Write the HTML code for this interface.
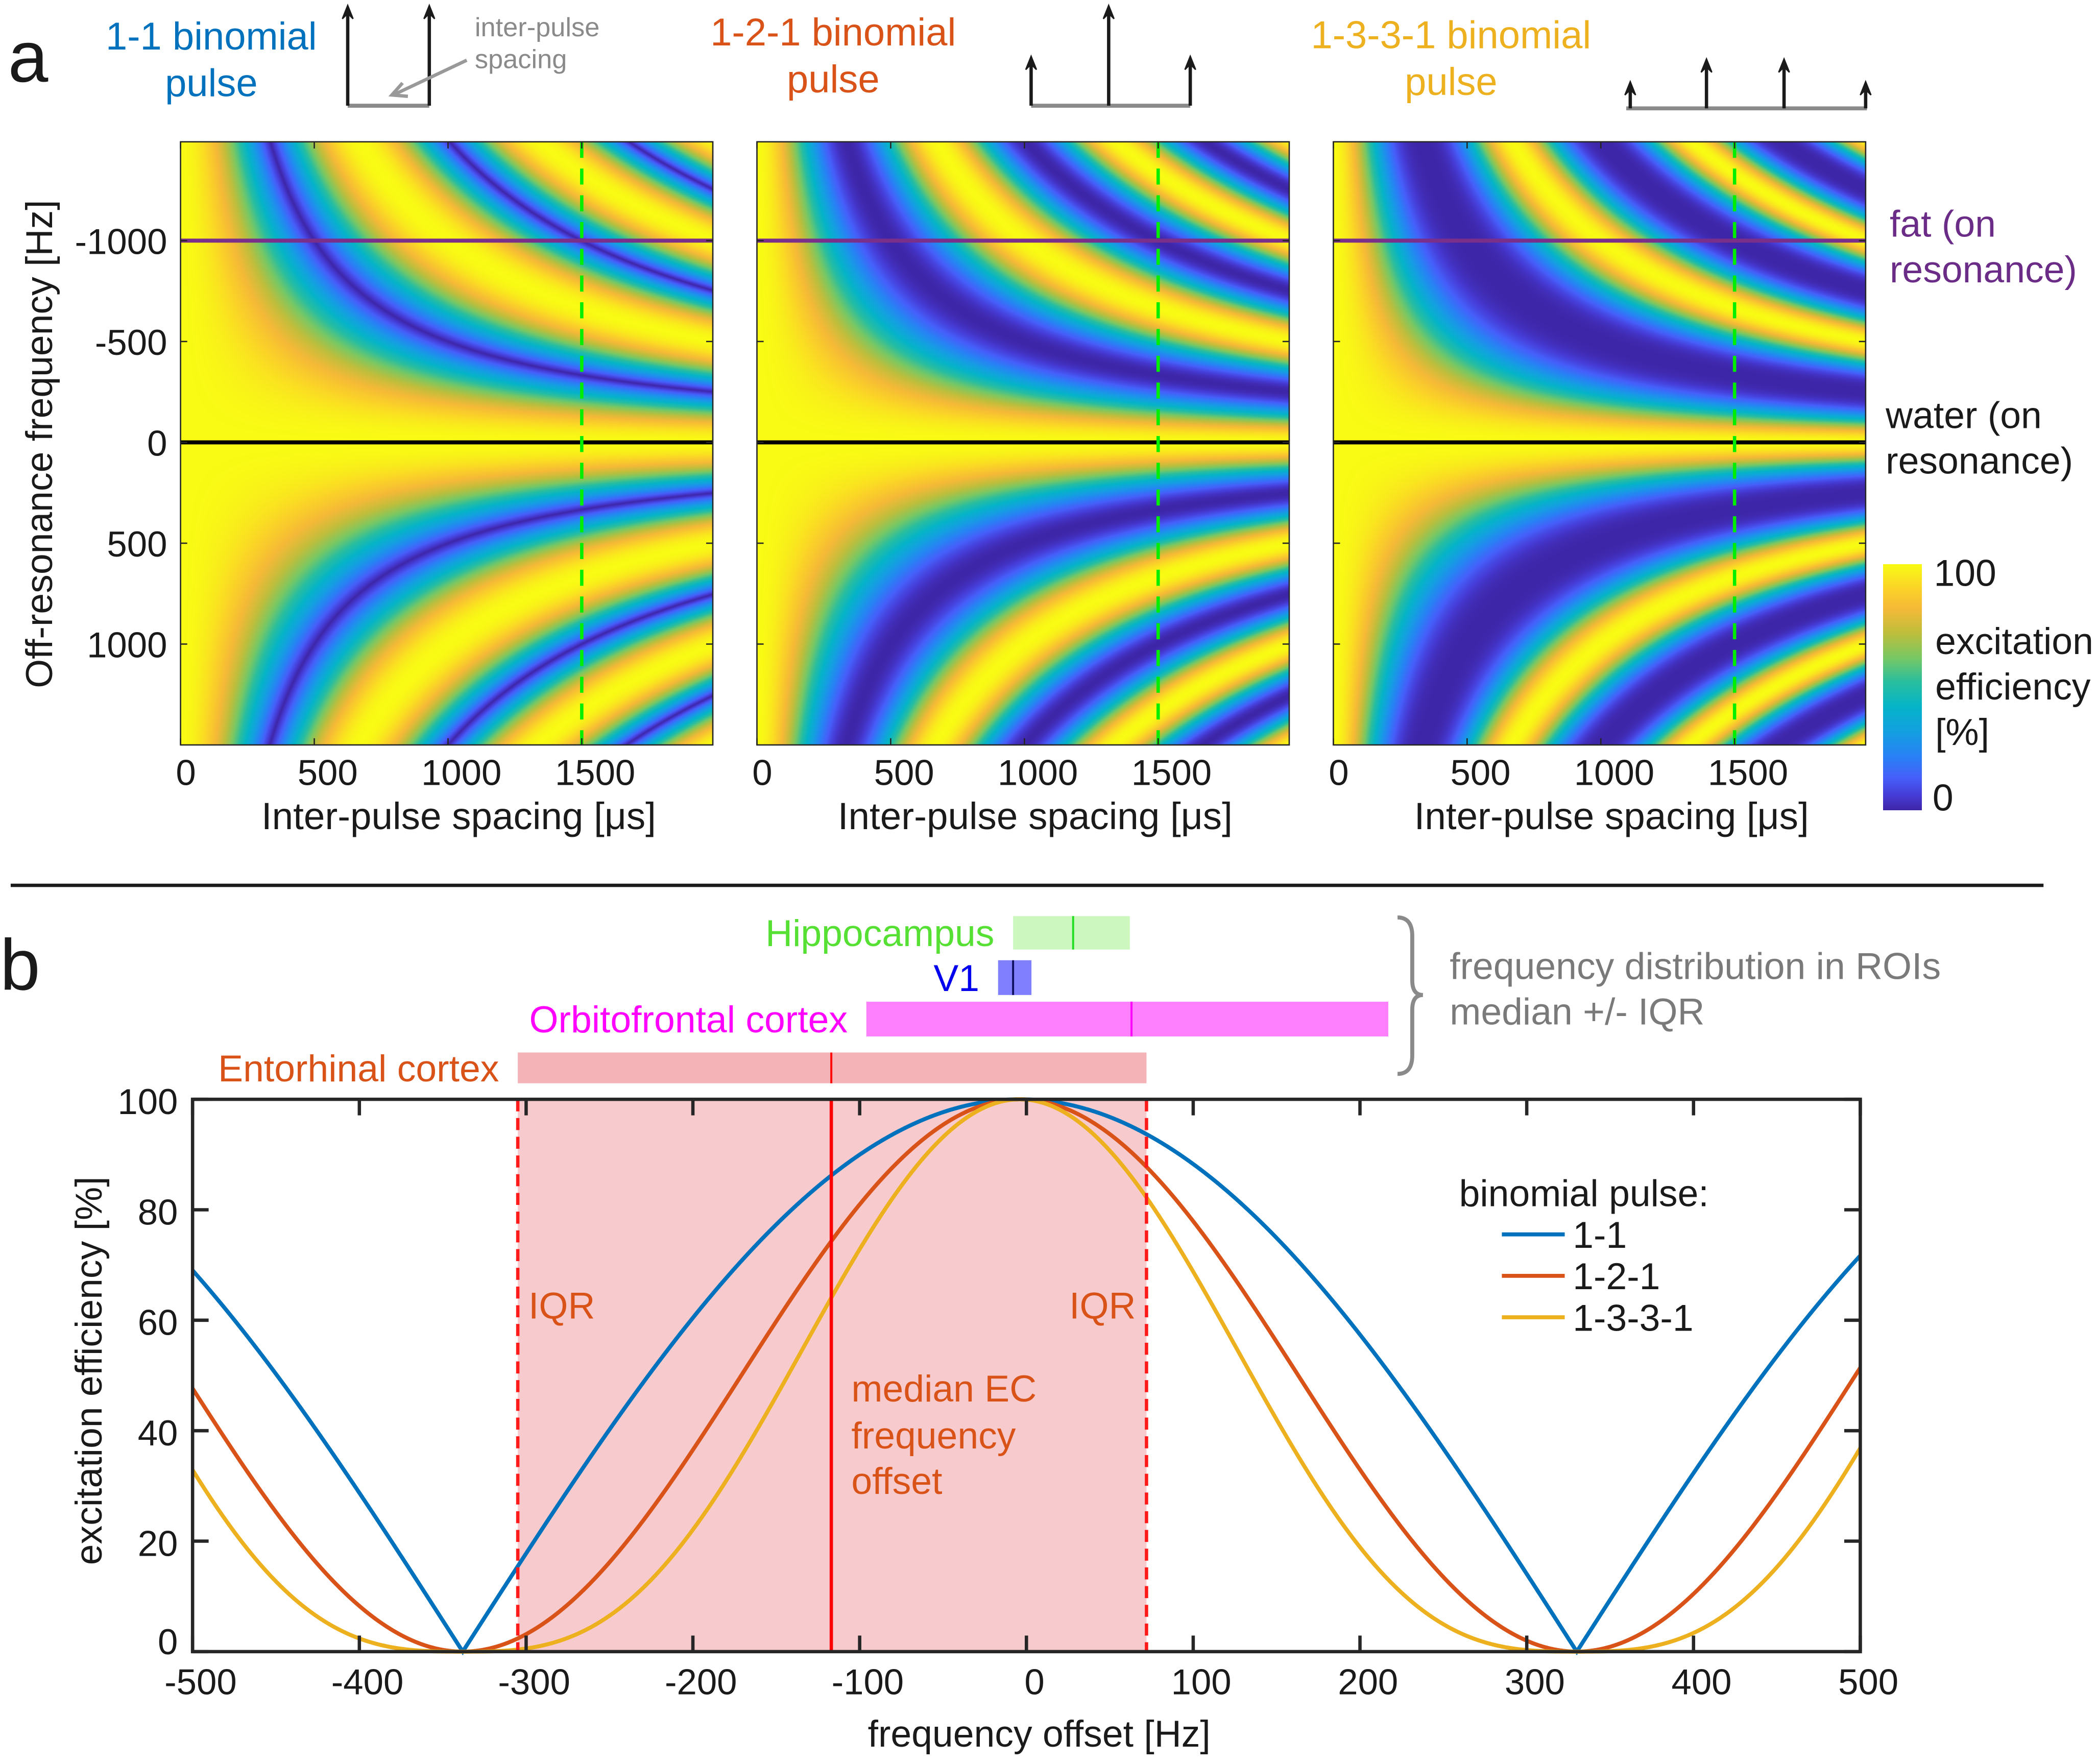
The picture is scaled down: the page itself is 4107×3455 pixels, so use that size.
<!DOCTYPE html>
<html><head><meta charset="utf-8">
<style>
html,body{margin:0;padding:0;background:#fff;}
#root{position:relative;width:4107px;height:3455px;overflow:hidden;background:#fff;}
canvas{position:absolute;display:block;}
#svg{position:absolute;left:0;top:0;}
text{font-family:"Liberation Sans",sans-serif;}
.nar{font-family:"Liberation Sans Narrow","Liberation Sans",sans-serif;}
</style></head>
<body>
<div id="root">
<canvas id="hm0"></canvas>
<canvas id="hm1"></canvas>
<canvas id="hm2"></canvas>
<canvas id="cbar"></canvas>
<svg id="svg" width="4107" height="3455" viewBox="0 0 1568 1319" xmlns="http://www.w3.org/2000/svg">
  <text x="6" y="61" font-size="54" fill="#1a1a1a">a</text>
  <text x="0" y="740" font-size="54" fill="#1a1a1a">b</text>

  <g font-size="29" text-anchor="middle">
    <text x="158" y="37" fill="#0072bd">1-1 binomial</text>
    <text x="158" y="72" fill="#0072bd">pulse</text>
    <text x="623" y="34" fill="#d95319">1-2-1 binomial</text>
    <text x="623" y="69" fill="#d95319">pulse</text>
    <text x="1085" y="36" fill="#edb120">1-3-3-1 binomial</text>
    <text x="1085" y="71" fill="#edb120">pulse</text>
  </g>

  <g id="pulses"></g>
  <g>
    <line x1="349" y1="45" x2="294" y2="71" stroke="#999" stroke-width="2.5"/>
    <path d="M301,62 L293,71 L305,72" fill="none" stroke="#999" stroke-width="2.5"/>
    <text x="355" y="27" font-size="20" fill="#8a8a8a">inter-pulse</text>
    <text x="355" y="51" font-size="20" fill="#8a8a8a">spacing</text>
  </g>

  <g id="panelA"></g>

  <text x="1413" y="177" font-size="28" fill="#6a2c86">fat (on</text>
  <text x="1413" y="211" font-size="28" fill="#6a2c86">resonance)</text>
  <text x="1410" y="320" font-size="28" fill="#1a1a1a">water (on</text>
  <text x="1410" y="354" font-size="28" fill="#1a1a1a">resonance)</text>
  <g font-size="28" fill="#1a1a1a">
    <text x="1446" y="438">100</text>
    <text x="1447" y="489">excitation</text>
    <text x="1447" y="523">efficiency</text>
    <text x="1447" y="557">[%]</text>
    <text x="1445" y="606">0</text>
  </g>

  <line x1="8" y1="662" x2="1528" y2="662" stroke="#1a1a1a" stroke-width="2.5"/>

  <g id="panelB"></g>

  <path d="M1045,686 Q1056,686 1056,700 L1056,733 Q1056,744 1064,744 Q1056,744 1056,755 L1056,789 Q1056,803 1045,803" fill="none" stroke="#8a8a8a" stroke-width="3"/>
  <text class="nar" x="1084" y="732" font-size="28" fill="#7a7a7a">frequency distribution in ROIs</text>
  <text class="nar" x="1084" y="766" font-size="28" fill="#7a7a7a">median +/- IQR</text>
</svg>
</div>
<script>
// ---------- Panel a data ----------
const pulseNames = ["1-1", "1-2-1", "1-3-3-1"];
const pulseOrders = [1, 2, 3];
const spacingTicks = [0, 500, 1000, 1500];
const spacingTickLabels = ["0", "500", "1000", "1500"];
const freqTicks = [-1000, -500, 0, 500, 1000];
const freqTickLabels = ["-1000", "-500", "0", "500", "1000"];
const spacingRange = [0, 1990];
const freqRange = [-1490, 1500];
const fatFreq = [-1000];
const waterFreq = [0];
const chosenSpacing = [1500];

// ---------- Panel b data ----------
const offsetTicks = [-500, -400, -300, -200, -100, 0, 100, 200, 300, 400, 500];
const effTicks = [0, 20, 40, 60, 80, 100];
const chosenSpacingUs = [1497];
const curveCenterHz = [-4];
const roiNames = ["Hippocampus", "V1", "Orbitofrontal cortex", "Entorhinal cortex"];
const roiLow = [-8, -17, -96, -305];
const roiMedian = [28, -8, 63, -117];
const roiHigh = [62, 3, 217, 72];

const S = 4107 / 1568;
const NS = "http://www.w3.org/2000/svg";
function el(tag, attrs, parent, txt) {
  const e = document.createElementNS(NS, tag);
  for (const k in attrs) e.setAttribute(k, attrs[k]);
  if (txt !== undefined) e.textContent = txt;
  parent.appendChild(e);
  return e;
}

// pulse diagrams
const gP = document.getElementById("pulses");
const diagrams = [
  { base: [260, 321, 79], arrows: [[260, 4], [321, 4]] },
  { base: [771, 890, 79], arrows: [[771, 42], [829, 4], [890, 42]] },
  { base: [1216, 1396, 81], arrows: [[1219, 61], [1276, 44], [1334, 44], [1395, 61]] }
];
diagrams.forEach((d, i) => {
  const g = el("g", {}, gP);
  
  
  el("line", { x1: d.base[0], x2: d.base[1], y1: d.base[2], y2: d.base[2], stroke: "#8a8a8a", "stroke-width": 3 }, g);
  d.arrows.forEach(a => {
    el("line", { x1: a[0], x2: a[0], y1: d.base[2], y2: a[1] + 4, stroke: "#1a1a1a", "stroke-width": 2.5 }, g);
    el("path", { d: `M${a[0]},${a[1]} L${a[0] + 4},${a[1] + 10} L${a[0]},${a[1] + 6} L${a[0] - 4},${a[1] + 10} Z`, fill: "#1a1a1a", stroke: "#1a1a1a", "stroke-width": 1 }, g);
  });
});

const parulaStops = [
  [0.00, 62, 38, 168], [0.06, 70, 60, 215], [0.13, 70, 95, 250], [0.22, 40, 130, 245],
  [0.32, 20, 160, 225], [0.42, 5, 180, 200], [0.52, 40, 190, 160], [0.62, 120, 200, 100],
  [0.72, 190, 190, 60], [0.82, 245, 185, 55], [0.90, 250, 210, 40], [1.00, 249, 251, 20]
];
function parula(v) {
  v = Math.max(0, Math.min(1, v));
  for (let i = 1; i < parulaStops.length; i++) {
    if (v <= parulaStops[i][0]) {
      const a = parulaStops[i - 1], b = parulaStops[i];
      const t = (v - a[0]) / (b[0] - a[0]);
      return [a[1] + t * (b[1] - a[1]), a[2] + t * (b[2] - a[2]), a[3] + t * (b[3] - a[3])];
    }
  }
  return [249, 251, 20];
}

// ---------- Panel a ----------
const panelLefts = [135, 566, 997];
const pW = 398, pTop = 106, pH = 451;
const gA = document.getElementById("panelA");
function xA(i, us) { return panelLefts[i] + (us - spacingRange[0]) / (spacingRange[1] - spacingRange[0]) * pW; }
function yA(hz) { return pTop + (hz - freqRange[0]) / (freqRange[1] - freqRange[0]) * pH; }

pulseOrders.forEach((n, i) => {
  const cv = document.getElementById("hm" + i);
  const W = Math.round(pW * S), H = Math.round(pH * S);
  cv.width = W; cv.height = H;
  cv.style.left = (panelLefts[i] * S) + "px";
  cv.style.top = (pTop * S) + "px";
  cv.style.width = W + "px"; cv.style.height = H + "px";
  const ctx = cv.getContext("2d");
  const img = ctx.createImageData(W, H);
  for (let j = 0; j < H; j++) {
    const f = freqRange[0] + (j + 0.5) / H * (freqRange[1] - freqRange[0]);
    for (let k = 0; k < W; k++) {
      const tau = spacingRange[0] + (k + 0.5) / W * (spacingRange[1] - spacingRange[0]);
      const v = Math.pow(Math.abs(Math.cos(Math.PI * f * tau * 1e-6)), n);
      const c = parula(v);
      const p = (j * W + k) * 4;
      img.data[p] = c[0]; img.data[p + 1] = c[1]; img.data[p + 2] = c[2]; img.data[p + 3] = 255;
    }
  }
  ctx.putImageData(img, 0, 0);

  const g = el("g", {}, gA);
  
  
  const fl = el("line", { x1: panelLefts[i], x2: panelLefts[i] + pW, y1: yA(fatFreq[0]), y2: yA(fatFreq[0]), stroke: "#7a2f8a", "stroke-width": 3 }, g);
  
  
  const wl = el("line", { x1: panelLefts[i], x2: panelLefts[i] + pW, y1: yA(waterFreq[0]), y2: yA(waterFreq[0]), stroke: "#000", "stroke-width": 3 }, g);
  
  
  const gl = el("line", { x1: xA(i, chosenSpacing[0]), x2: xA(i, chosenSpacing[0]), y1: pTop, y2: pTop + pH, stroke: "#00ee00", "stroke-width": 2.5, "stroke-dasharray": "12 8" }, g);
  
  
  el("rect", { x: panelLefts[i], y: pTop, width: pW, height: pH, fill: "none", stroke: "#262626", "stroke-width": 1 }, g);
  spacingTicks.forEach((t, k) => {
    const x = xA(i, t);
    el("line", { x1: x, x2: x, y1: pTop, y2: pTop + 5, stroke: "#262626", "stroke-width": 1 }, g);
    el("line", { x1: x, x2: x, y1: pTop + pH, y2: pTop + pH - 5, stroke: "#262626", "stroke-width": 1 }, g);
    const lbl = el("text", { x: x + (k === 0 ? 4 : 10), y: 587, "font-size": 27, fill: "#1a1a1a", "text-anchor": "middle" }, g, spacingTickLabels[k]);
    
    
  });
  freqTicks.forEach((t, k) => {
    const y = yA(t);
    el("line", { x1: panelLefts[i], x2: panelLefts[i] + 5, y1: y, y2: y, stroke: "#262626", "stroke-width": 1 }, g);
    el("line", { x1: panelLefts[i] + pW, x2: panelLefts[i] + pW - 5, y1: y, y2: y, stroke: "#262626", "stroke-width": 1 }, g);
    if (i === 0) {
      const lbl = el("text", { x: 125, y: y + 10, "font-size": 27, fill: "#1a1a1a", "text-anchor": "end" }, g, freqTickLabels[k]);
      
      
    }
  });
  const xl = el("text", { x: panelLefts[i] + 208, y: 620, "font-size": 28.5, fill: "#1a1a1a", "text-anchor": "middle" }, g, "Inter-pulse spacing [\u03BCs]");
  
  
});
const yl = el("text", { x: 0, y: 0, "font-size": 28, fill: "#1a1a1a", "text-anchor": "middle", transform: "translate(39,332) rotate(-90)" }, gA, "Off-resonance frequency [Hz]");



(function () {
  const cv = document.getElementById("cbar");
  const W = Math.round(29 * S), H = Math.round(184 * S);
  cv.width = W; cv.height = H;
  cv.style.left = (1408 * S) + "px"; cv.style.top = (422 * S) + "px";
  cv.style.width = W + "px"; cv.style.height = H + "px";
  const ctx = cv.getContext("2d");
  for (let j = 0; j < H; j++) {
    const c = parula(1 - j / (H - 1));
    ctx.fillStyle = "rgb(" + c.map(Math.round).join(",") + ")";
    ctx.fillRect(0, j, W, 1);
  }
})();

// ---------- Panel b ----------
const gB = document.getElementById("panelB");
const bL = 144, bR = 1391, bT = 822, bB = 1235;
function xB(hz) { return bL + (hz + 500) / 1000 * (bR - bL); }
function yB(p) { return bB - p / 100 * (bB - bT); }

const shade = el("rect", { x: xB(roiLow[3]), y: bT, width: xB(roiHigh[3]) - xB(roiLow[3]), height: bB - bT, fill: "#f7cbce" }, gB);



const roiBarY = [685, 718, 749, 787];
const roiBarH = [25, 26, 26, 23];
const roiFill = ["#ccf8c0", "#8080ff", "#ff80ff", "#f4b4b7"];
const roiMed = ["#22dd22", "#101060", "#ff00ff", "#ff0000"];
const roiText = ["#55e033", "#0000ee", "#ff00ff", "#d95319"];
roiNames.forEach((nm, i) => {
  const r = el("rect", { x: xB(roiLow[i]), y: roiBarY[i], width: xB(roiHigh[i]) - xB(roiLow[i]), height: roiBarH[i], fill: roiFill[i] }, gB);
  
  
  const m = el("line", { x1: xB(roiMedian[i]), x2: xB(roiMedian[i]), y1: roiBarY[i], y2: roiBarY[i] + roiBarH[i], stroke: roiMed[i], "stroke-width": 1.5 }, gB);
  
  
  const t = el("text", { class: "nar", x: xB(roiLow[i]) - 14, y: roiBarY[i] + roiBarH[i] / 2 + 10, "font-size": 28, fill: roiText[i], "text-anchor": "end" }, gB, nm);
  
  
});

const curveColors = ["#0072bd", "#d95319", "#edb120"];
pulseOrders.forEach((n, i) => {
  let d = "";
  for (let k = 0; k <= 2000; k++) {
    const f = -500 + k * 0.5;
    const v = 100 * Math.pow(Math.abs(Math.cos(Math.PI * (f - curveCenterHz[0]) * chosenSpacingUs[0] * 1e-6)), n);
    d += (k ? "L" : "M") + xB(f).toFixed(2) + "," + yB(v).toFixed(2);
  }
  const p = el("path", { d: d, fill: "none", stroke: curveColors[i], "stroke-width": 3 }, gB);
  
  
});

[roiLow[3], roiHigh[3]].forEach(v => {
  const l = el("line", { x1: xB(v), x2: xB(v), y1: bT, y2: bB, stroke: "#ff1a1a", "stroke-width": 2.5, "stroke-dasharray": "9 5" }, gB);
  
  
});
const ml = el("line", { x1: xB(roiMedian[3]), x2: xB(roiMedian[3]), y1: bT, y2: bB, stroke: "#ff0000", "stroke-width": 2.5 }, gB);



const ann = [["IQR", xB(roiLow[3]) + 8, 986, "start"], ["IQR", xB(roiHigh[3]) - 8, 986, "end"],
  ["median EC", xB(roiMedian[3]) + 15, 1048, "start"], ["frequency", xB(roiMedian[3]) + 15, 1083, "start"], ["offset", xB(roiMedian[3]) + 15, 1117, "start"]];
ann.forEach(a => {
  const t = el("text", { class: "nar", x: a[1], y: a[2], "font-size": 28, fill: "#d95319", "text-anchor": a[3] }, gB, a[0]);
  
  
});

el("rect", { x: bL, y: bT, width: bR - bL, height: bB - bT, fill: "none", stroke: "#262626", "stroke-width": 2.5 }, gB);
offsetTicks.forEach(t => {
  const x = xB(t);
  el("line", { x1: x, x2: x, y1: bB, y2: bB - 12, stroke: "#262626", "stroke-width": 2.5 }, gB);
  el("line", { x1: x, x2: x, y1: bT, y2: bT + 12, stroke: "#262626", "stroke-width": 2.5 }, gB);
  const lbl = el("text", { class: "nar", x: x + 6, y: 1267, "font-size": 27, fill: "#1a1a1a", "text-anchor": "middle" }, gB, String(t));
  
  
});
effTicks.forEach(t => {
  const y = yB(t);
  el("line", { x1: bL, x2: bL + 12, y1: y, y2: y, stroke: "#262626", "stroke-width": 2.5 }, gB);
  el("line", { x1: bR, x2: bR - 12, y1: y, y2: y, stroke: "#262626", "stroke-width": 2.5 }, gB);
  const lbl = el("text", { class: "nar", x: 133, y: (t === 0 ? y + 2 : y + 11), "font-size": 27, fill: "#1a1a1a", "text-anchor": "end" }, gB, String(t));
  
  
});
const xt = el("text", { class: "nar", x: 777, y: 1306, "font-size": 28, fill: "#1a1a1a", "text-anchor": "middle" }, gB, "frequency offset [Hz]");


const yt = el("text", { class: "nar", x: 0, y: 0, "font-size": 28, fill: "#1a1a1a", "text-anchor": "middle", transform: "translate(76,1025) rotate(-90)" }, gB, "excitation efficiency [%]");



const lg = el("g", {}, gB);


el("text", { class: "nar", x: 1091, y: 902, "font-size": 28, fill: "#1a1a1a" }, lg, "binomial pulse:");
pulseNames.forEach((nm, i) => {
  const y = 923 + i * 31;
  const e = el("g", {}, lg);
  
  
  el("line", { x1: 1123, x2: 1170, y1: y, y2: y, stroke: curveColors[i], "stroke-width": 3 }, e);
  el("text", { class: "nar", x: 1176, y: y + 10, "font-size": 28, fill: "#1a1a1a" }, e, nm);
});
</script>
</body></html>
